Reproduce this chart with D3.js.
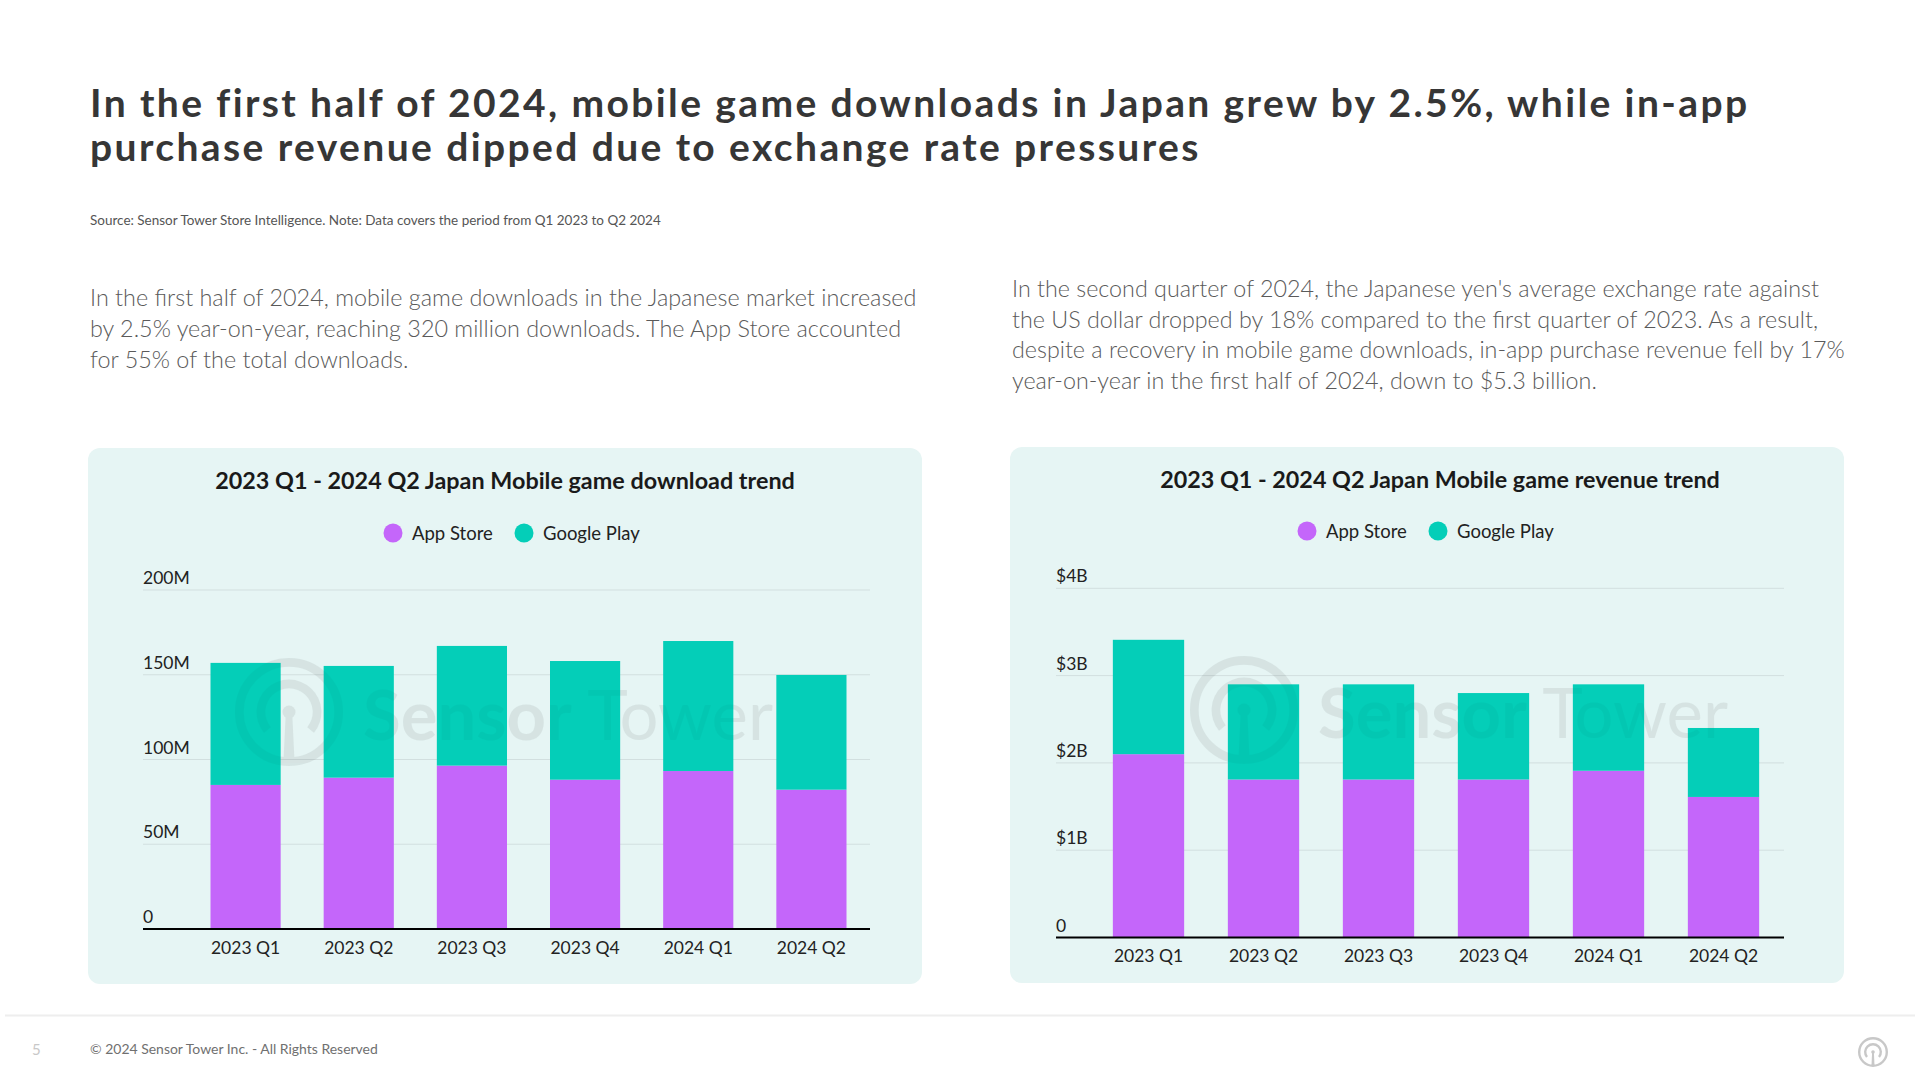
<!DOCTYPE html>
<html>
<head>
<meta charset="utf-8">
<script src="https://cdn.jsdelivr.net/npm/d3@7"></script>
<style>
  html, body { margin: 0; padding: 0; background: #ffffff; }
  svg { display: block; }
  text { font-family: "Lato", "Open Sans", sans-serif; }
</style>
</head>
<body>
<svg id="chart" width="1919" height="1080"></svg>
<script>
// ---------------- DATA ----------------
const quarters = ["2023 Q1", "2023 Q2", "2023 Q3", "2023 Q4", "2024 Q1", "2024 Q2"];
const seriesNames = ["App Store", "Google Play"];
// downloads, millions
const downloadsAppStore   = [85.0, 89.3, 96.4, 88.1, 93.2, 82.2];
const downloadsGooglePlay = [72.0, 65.9, 70.6, 70.0, 76.7, 67.7];
// revenue, billions USD
const revenueAppStore   = [2.10, 1.81, 1.81, 1.81, 1.91, 1.61];
const revenueGooglePlay = [1.31, 1.09, 1.09, 0.99, 0.99, 0.79];
const downloadTicks = [0, 50, 100, 150, 200];
const downloadTickLabels = ["0", "50M", "100M", "150M", "200M"];
const revenueTicks = [0, 1, 2, 3, 4];
const revenueTickLabels = ["0", "$1B", "$2B", "$3B", "$4B"];

const titleLines = [
  "In the first half of 2024, mobile game downloads in Japan grew by 2.5%, while in-app",
  "purchase revenue dipped due to exchange rate pressures"
];
const sourceNote = "Source: Sensor Tower Store Intelligence. Note: Data covers the period from Q1 2023 to Q2 2024";
const leftParagraph = [
  "In the first half of 2024, mobile game downloads in the Japanese market increased",
  "by 2.5% year-on-year, reaching 320 million downloads. The App Store accounted",
  "for 55% of the total downloads."
];
const rightParagraph = [
  "In the second quarter of 2024, the Japanese yen's average exchange rate against",
  "the US dollar dropped by 18% compared to the first quarter of 2023. As a result,",
  "despite a recovery in mobile game downloads, in-app purchase revenue fell by 17%",
  "year-on-year in the first half of 2024, down to $5.3 billion."
];
const downloadChartTitle = "2023 Q1 - 2024 Q2 Japan Mobile game download trend";
const revenueChartTitle = "2023 Q1 - 2024 Q2 Japan Mobile game revenue trend";
const footerText = "© 2024 Sensor Tower Inc. - All Rights Reserved";
const pageNumber = "5";
const watermarkWords = ["Sensor", " Tower"];

// ---------------- STYLE ----------------
const COLORS = { "App Store": "#C466FA", "Google Play": "#04CEB8" };
const PANEL_BG = "#E6F5F4";
const GRID = "#D2DFDF";

const svg = d3.select("#chart");

function fitBlock(sel, targetWidth) {
  const first = sel.nodes()[0];
  const w = first.getComputedTextLength();
  const fs = parseFloat(d3.select(first).attr("font-size"));
  const nfs = fs * targetWidth / w;
  sel.attr("font-size", nfs);
  return nfs;
}
function fitSpacing(sel, targetWidth) {
  const first = sel.nodes()[0];
  const w = first.getComputedTextLength();
  const n = first.getNumberOfChars();
  const ls = (targetWidth - w) / n;
  sel.attr("letter-spacing", ls);
}

// ---------------- HEADER ----------------
const title = svg.selectAll("text.title").data(titleLines).join("text")
  .attr("class", "title")
  .attr("x", 90).attr("y", (d, i) => 116.5 + i * 44.5)
  .attr("font-size", 39).attr("font-weight", 700).attr("fill", "#363636")
  .text(d => d);
fitSpacing(title, 1659);

const src = svg.append("text").attr("x", 90).attr("y", 225)
  .attr("font-size", 13).attr("fill", "#555").text(sourceNote);
fitBlock(src, 571);

const lp = svg.selectAll("text.lp").data(leftParagraph).join("text")
  .attr("class", "lp").attr("x", 90).attr("y", (d, i) => 306 + i * 30.8)
  .attr("font-size", 22).attr("font-weight", 300).attr("fill", "#5a5a5a")
  .text(d => d);
fitBlock(lp, 827);

const rp = svg.selectAll("text.rp").data(rightParagraph).join("text")
  .attr("class", "rp").attr("x", 1012).attr("y", (d, i) => 297 + i * 30.6)
  .attr("font-size", 22).attr("font-weight", 300).attr("fill", "#5a5a5a")
  .text(d => d);
fitBlock(rp, 807);

// ---------------- LOGO ----------------
function drawLogo(g, cx, cy, s, color, opacity) {
  const lg = g.append("g").attr("transform", `translate(${cx},${cy}) scale(${s})`)
    .attr("opacity", opacity);
  lg.append("circle").attr("r", 46).attr("fill", "none").attr("stroke", color).attr("stroke-width", 8);
  lg.append("path").attr("d", d3.arc().innerRadius(22).outerRadius(30)
      .startAngle(-Math.PI * 0.72).endAngle(Math.PI * 0.72)())
    .attr("fill", color);
  lg.append("circle").attr("r", 6).attr("fill", color);
  lg.append("path").attr("d", "M-3,2 L3,2 L5,44 L-5,44 Z").attr("fill", color);
}

function drawWatermark(g, cfg, opacity) {
  const wm = g.append("g");
  drawLogo(wm, cfg.wmLogo[0], cfg.wmLogo[1], 1.08, "#000", opacity);
  const wt = wm.append("text").attr("x", cfg.wmText[0]).attr("y", cfg.wmText[1])
    .attr("font-size", 80).attr("fill", "#000").attr("opacity", opacity);
  wt.append("tspan").attr("font-weight", 700).text(watermarkWords[0]);
  wt.append("tspan").attr("font-weight", 400).text(watermarkWords[1]);
  const w = wt.node().getComputedTextLength();
  wt.attr("font-size", 80 * cfg.wmWidth / w);
}

// ---------------- CHARTS ----------------
function drawChart(cfg) {
  const g = svg.append("g");
  g.append("rect").attr("x", cfg.panel[0]).attr("y", cfg.panel[1])
    .attr("width", cfg.panel[2]).attr("height", cfg.panel[3])
    .attr("rx", 12).attr("fill", PANEL_BG);

  const x = d3.scaleBand().domain(quarters).range(cfg.xRange).paddingInner(0.38).paddingOuter(0.19);
  const y = d3.scaleLinear().domain([0, cfg.yMax]).range(cfg.yRange);

  g.selectAll("line.grid").data(cfg.ticks.slice(1)).join("line")
    .attr("x1", cfg.gridX[0]).attr("x2", cfg.gridX[1])
    .attr("y1", d => y(d)).attr("y2", d => y(d))
    .attr("stroke", GRID).attr("stroke-width", 1);

  g.selectAll("text.ytick").data(cfg.ticks).join("text")
    .attr("x", cfg.gridX[0]).attr("y", d => y(d) - 6)
    .attr("font-size", 17.5).attr("fill", "#222")
    .text((d, i) => cfg.tickLabels[i]);

  drawWatermark(g, cfg, 0.035);

  const rows = quarters.map((q, i) => ({ q, "App Store": cfg.a[i], "Google Play": cfg.b[i] }));
  const stacked = d3.stack().keys(seriesNames)(rows);
  g.append("g").selectAll("g").data(stacked).join("g")
    .attr("fill", d => COLORS[d.key])
    .selectAll("rect").data(d => d).join("rect")
    .attr("x", d => x(d.data.q)).attr("width", x.bandwidth())
    .attr("y", d => y(d[1])).attr("height", d => y(d[0]) - y(d[1]));

  drawWatermark(g, cfg, 0.028);

  g.append("line").attr("x1", cfg.gridX[0]).attr("x2", cfg.gridX[1])
    .attr("y1", y(0)).attr("y2", y(0)).attr("stroke", "#000").attr("stroke-width", 2.2);

  g.selectAll("text.xl").data(quarters).join("text")
    .attr("x", d => x(d) + x.bandwidth() / 2).attr("y", cfg.xLabelY)
    .attr("text-anchor", "middle").attr("font-size", 17.5).attr("fill", "#222")
    .text(d => d);

  const t = g.append("text").attr("x", cfg.titleX).attr("y", cfg.titleY)
    .attr("text-anchor", "middle").attr("font-size", 22).attr("font-weight", 700)
    .attr("fill", "#1a1a1a").text(cfg.title);
  fitBlock(t, cfg.titleW);

  const lg = g.append("g");
  seriesNames.forEach((n, i) => {
    lg.append("circle").attr("cx", cfg.legend[i]).attr("cy", cfg.legendY)
      .attr("r", 9.5).attr("fill", COLORS[n]);
    lg.append("text").attr("x", cfg.legend[i] + 19).attr("y", cfg.legendY + 6.5)
      .attr("font-size", 18.5).attr("fill", "#222").text(n);
  });
}

drawChart({
  panel: [88, 448, 834, 536],
  xRange: [189, 868], yRange: [929, 590], yMax: 200,
  gridX: [143, 870],
  ticks: downloadTicks, tickLabels: downloadTickLabels,
  a: downloadsAppStore, b: downloadsGooglePlay,
  xLabelY: 954,
  title: downloadChartTitle, titleX: 505, titleY: 489, titleW: 580,
  legend: [393, 524], legendY: 533,
  wmLogo: [289, 712], wmText: [363, 740], wmWidth: 410
});

drawChart({
  panel: [1010, 447, 834, 536],
  xRange: [1091, 1781], yRange: [937.5, 588.3], yMax: 4,
  gridX: [1056, 1784],
  ticks: revenueTicks, tickLabels: revenueTickLabels,
  a: revenueAppStore, b: revenueGooglePlay,
  xLabelY: 962,
  title: revenueChartTitle, titleX: 1440, titleY: 487.5, titleW: 560,
  legend: [1307, 1438], legendY: 531,
  wmLogo: [1244, 710], wmText: [1318, 738], wmWidth: 410
});

// ---------------- FOOTER ----------------
svg.append("line").attr("x1", 5).attr("x2", 1915).attr("y1", 1015.5).attr("y2", 1015.5)
  .attr("stroke", "#EEEEEE").attr("stroke-width", 2);
svg.append("text").attr("x", 32).attr("y", 1055).attr("font-size", 15).attr("fill", "#C8C8C8").text(pageNumber);
const ft = svg.append("text").attr("x", 90).attr("y", 1054).attr("font-size", 13).attr("fill", "#707070").text(footerText);
fitBlock(ft, 288);
drawLogo(svg.append("g"), 1873, 1052, 0.3, "#BBBBBB", 0.8);
</script>
</body>
</html>
